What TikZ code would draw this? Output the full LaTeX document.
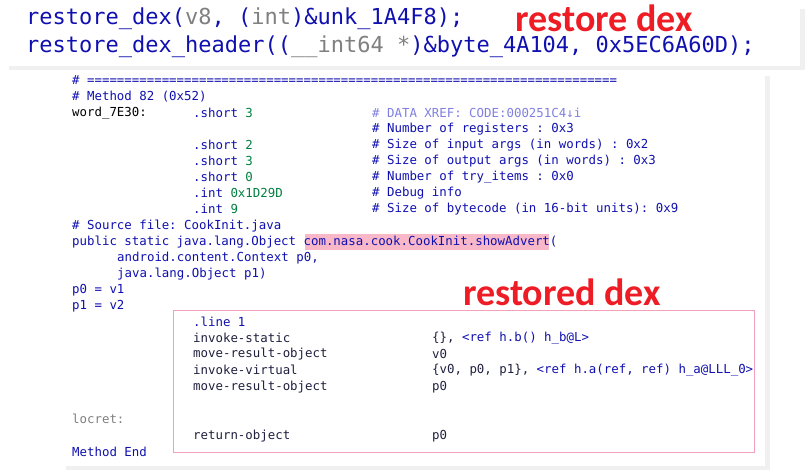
\documentclass[tikz,border=0pt]{standalone}
\usepackage{fontspec}
\setmonofont{DejaVu Sans Mono}
\newfontfamily\labelfont{Carlito}
\usetikzlibrary{positioning}

\definecolor{idablue}{HTML}{1010B0}
\definecolor{idagreen}{HTML}{008040}
\definecolor{idagray}{HTML}{808080}
\definecolor{idadark}{HTML}{202040}
\definecolor{idaxref}{HTML}{8080E0}
\definecolor{hlpink}{HTML}{F8B8C8}
\definecolor{boxpink}{HTML}{F4A0B8}
\definecolor{tagred}{HTML}{EE1C25}

\tikzset{
  big/.style={anchor=west,inner sep=0pt,font=\ttfamily\fontsize{22}{22}\selectfont,text=idablue},
  code/.style={anchor=west,inner sep=0pt,font=\ttfamily\fontsize{12.4}{12.4}\selectfont,text=idablue},
  instr/.style={code,text=idadark},
  tag/.style={inner sep=0pt,font=\labelfont\bfseries\fontsize{38}{38}\selectfont,text=tagred}
}

\begin{document}
\begin{tikzpicture}[x=1pt,y=-1pt]
\useasboundingbox (0,0) rectangle (805,470);

% Top panel
\fill[gray!12] (9,9) rectangle (805,70);
\fill[white] (5,5) rectangle (800,66);
\node[big] (dex) at (26,19) {restore\_dex(\textcolor{idagray}{v8}, (\textcolor{idagray}{int})\&unk\_1A4F8);};
\node[big] (hdr) at (26,47) {restore\_dex\_header((\textcolor{idagray}{\_\_int64 *})\&byte\_4A104, 0x5EC6A60D);};
\node[tag] (tdex) at (604,18) {restore dex};

% Bottom panel
\fill[gray!12] (66,76) rectangle (770,470);
\fill[white] (62,72) rectangle (765,466);
\fill[hlpink] (305,234) rectangle (549,250);

% Header lines
\node[code] (l1) at (72,80) {\# =======================================================================};
\node[code] (l2) at (72,97) {\# Method 82 (0x52)};
\node[code,text=black] (l3) at (72,113) {word\_7E30:};
\node[code] (s1) at (193,113) {.short \textcolor{idagreen}{3}};
\node[code] (s2) at (193,145) {.short \textcolor{idagreen}{2}};
\node[code] (s3) at (193,161) {.short \textcolor{idagreen}{3}};
\node[code] (s4) at (193,177) {.short \textcolor{idagreen}{0}};
\node[code] (s5) at (193,193) {.int \textcolor{idagreen}{0x1D29D}};
\node[code] (s6) at (193,209) {.int \textcolor{idagreen}{9}};

% Comments
\node[code,text=idaxref] (c1) at (372,113) {\# DATA XREF: CODE:000251C4↓i};
\node[code] (c2) at (372,129) {\# Number of registers : 0x3};
\node[code] (c3) at (372,145) {\# Size of input args (in words) : 0x2};
\node[code] (c4) at (372,161) {\# Size of output args (in words) : 0x3};
\node[code] (c5) at (372,177) {\# Number of try\_items : 0x0};
\node[code] (c6) at (372,193) {\# Debug info};
\node[code] (c7) at (372,209) {\# Size of bytecode (in 16-bit units): 0x9};

% Signature
\node[code] (src) at (72,226) {\# Source file: CookInit.java};
\node[code] (sig) at (72,242) {public static java.lang.Object com.nasa.cook.CookInit.showAdvert(};
\node[code] (a0) at (117,258) {android.content.Context p0,};
\node[code] (a1) at (117,274) {java.lang.Object p1)};
\node[code] (p0) at (72,290) {p0 = v1};
\node[code] (p1) at (72,306) {p1 = v2};

% Restored body
\draw[boxpink,thick] (173,310) rectangle (754,452);
\node[tag] (tres) at (562,292) {restored dex};
\node[code] (b1) at (193,322) {.line 1};
\node[instr] (b2) at (193,338) {invoke-static};
\node[instr] (b3) at (193,354) {move-result-object};
\node[instr] (b4) at (193,370) {invoke-virtual};
\node[instr] (b5) at (193,387) {move-result-object};
\node[instr] (b6) at (193,436) {return-object};
\node[instr] (o2) at (432,338) {\{\}, \textcolor{idablue}{<ref h.b() h\_b@L>}};
\node[instr] (o3) at (432,354) {v0};
\node[instr] (o4) at (432,370) {\{v0, p0, p1\}, \textcolor{idablue}{<ref h.a(ref, ref) h\_a@LLL\_0>}};
\node[instr] (o5) at (432,387) {p0};
\node[instr] (o6) at (432,436) {p0};
\node[code,text=idagray] (loc) at (72,419) {locret:};
\node[code] (end) at (72,452) {Method End};
\end{tikzpicture}
\end{document}
